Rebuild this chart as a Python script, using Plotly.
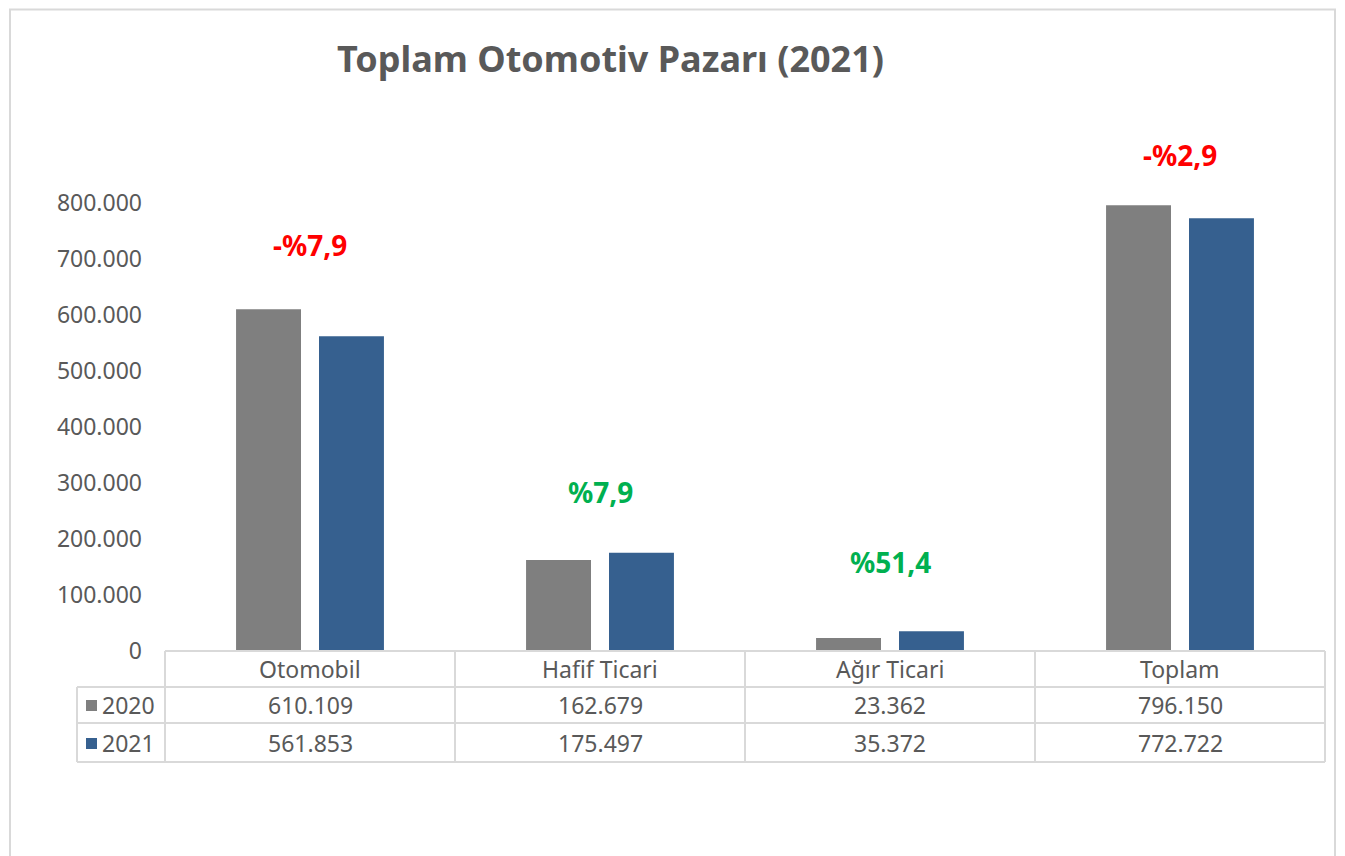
import plotly.graph_objects as go

categories = ["Otomobil", "Hafif Ticari", "Ağır Ticari", "Toplam"]
series_names = ["2020", "2021"]
values_2020 = [610109, 162679, 23362, 796150]
values_2021 = [561853, 175497, 35372, 772722]
change_labels = ["-%7,9", "%7,9", "%51,4", "-%2,9"]
change_label_y = [725000, 284000, 159000, 886000]
change_colors = ["#ff0000", "#00b050", "#00b050", "#ff0000"]
ytick_vals = [0, 100000, 200000, 300000, 400000, 500000, 600000, 700000, 800000]

COL_2020 = "#7f7f7f"
COL_2021 = "#36608f"
TXT = "#595959"
GRID = "#d9d9d9"
FONT = "Noto Sans"

W, H = 1345, 856
OFF = 8  # page body margin
PX0, PX1, PY0, PY1 = 165, 1325, 147, 651
L = PX0 - OFF
T = PY0 - OFF
R = W - (PX1 - OFF)
B = H - (PY1 - OFF)
PW, PH = PX1 - PX0, PY1 - PY0


def px(xp):
    return (xp - PX0) / PW


def py(yp):
    return (PY1 - yp) / PH


def fmt(v):
    return f"{v:,}".replace(",", ".")


fig = go.Figure()
fig.add_trace(go.Bar(x=categories, y=values_2020, name=series_names[0],
                     marker=dict(color=COL_2020, line=dict(width=0))))
fig.add_trace(go.Bar(x=categories, y=values_2021, name=series_names[1],
                     marker=dict(color=COL_2021, line=dict(width=0))))

shapes = []
shapes.append(dict(type="rect", xref="paper", yref="paper",
                   x0=px(10), x1=px(1335), y0=py(900), y1=py(9.5),
                   line=dict(color=GRID, width=2), layer="below"))
for yl, x0 in [(651, 165), (687, 77), (723, 77), (762, 77)]:
    shapes.append(dict(type="line", xref="paper", yref="paper",
                       x0=px(x0), x1=px(1325), y0=py(yl), y1=py(yl),
                       line=dict(color=GRID, width=2)))
shapes.append(dict(type="line", xref="paper", yref="paper",
                   x0=px(77), x1=px(77), y0=py(687), y1=py(762),
                   line=dict(color=GRID, width=2)))
n = len(categories)
for i in range(n + 1):
    xv = PX0 + PW * i / n
    shapes.append(dict(type="line", xref="paper", yref="paper",
                       x0=px(xv), x1=px(xv), y0=py(651), y1=py(762),
                       line=dict(color=GRID, width=2)))
for yl, col in [(705, COL_2020), (743, COL_2021)]:
    shapes.append(dict(type="rect", xref="paper", yref="paper",
                       x0=px(86), x1=px(97), y0=py(yl + 6), y1=py(yl - 5),
                       fillcolor=col, line=dict(width=0)))

annotations = []
tf = dict(size=23, color=TXT, family=FONT)
for i, c in enumerate(categories):
    annotations.append(dict(x=c, xref="x", y=py(669), yref="paper", text=c,
                            xanchor="center", yanchor="middle", showarrow=False, font=tf))
    annotations.append(dict(x=c, xref="x", y=py(705), yref="paper", text=fmt(values_2020[i]),
                            xanchor="center", yanchor="middle", showarrow=False, font=tf))
    annotations.append(dict(x=c, xref="x", y=py(743), yref="paper", text=fmt(values_2021[i]),
                            xanchor="center", yanchor="middle", showarrow=False, font=tf))
    annotations.append(dict(x=c, xref="x", y=change_label_y[i], yref="y",
                            text=f"<b>{change_labels[i]}</b>",
                            xanchor="center", yanchor="middle", showarrow=False,
                            font=dict(size=28, color=change_colors[i], family=FONT)))
for yl, name in [(705, series_names[0]), (743, series_names[1])]:
    annotations.append(dict(x=px(100), xref="paper", y=py(yl), yref="paper", text=name,
                            xanchor="left", yanchor="middle", showarrow=False, font=tf))
annotations.append(dict(x=px(610), xref="paper", y=py(59), yref="paper",
                        text="<b>Toplam Otomotiv Pazarı (2021)</b>", showarrow=False,
                        xanchor="center", yanchor="middle",
                        font=dict(size=36, color=TXT, family=FONT)))

fig.update_layout(
    width=W, height=H,
    margin=dict(l=L, r=R, t=T, b=B, autoexpand=False),
    paper_bgcolor="white", plot_bgcolor="white",
    barmode="group", bargap=0.428, bargroupgap=0.217,
    showlegend=False,
    separators=",.",
    font=dict(family=FONT, color=TXT),
    shapes=shapes, annotations=annotations,
    xaxis=dict(showticklabels=False, showgrid=False, zeroline=False, showline=False,
               ticks=""),
    yaxis=dict(range=[0, 900000], tickvals=ytick_vals, tickformat=",d",
               showgrid=False, zeroline=False, showline=False,
               tickfont=dict(size=23, color=TXT, family=FONT),
               ticklabelstandoff=22),
)

fig.write_html("out.html")
